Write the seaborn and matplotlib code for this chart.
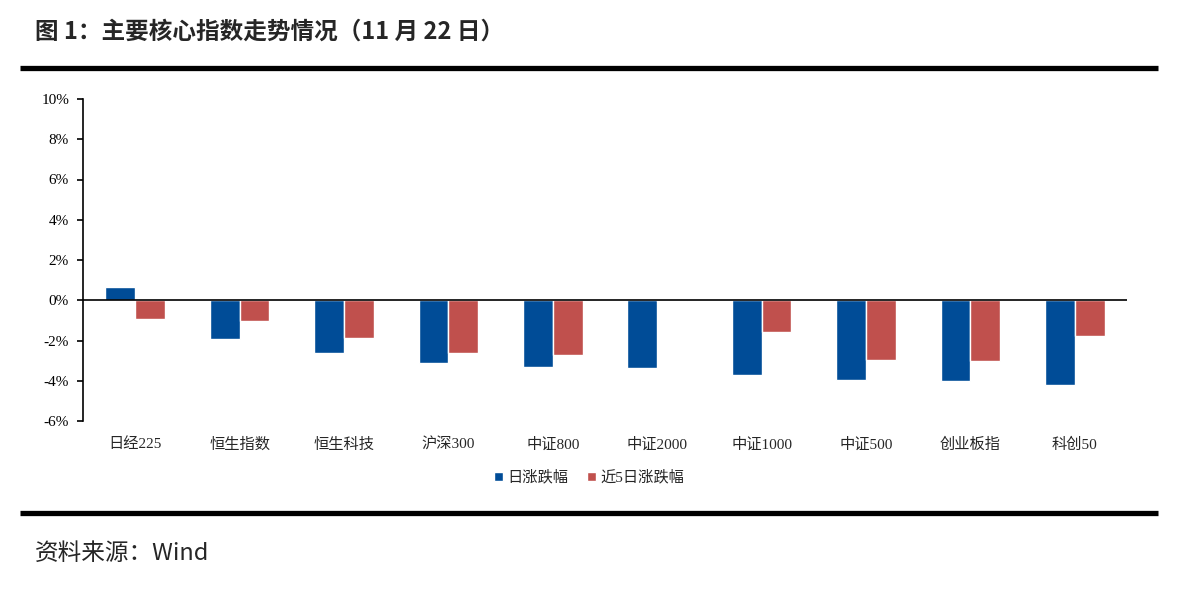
import numpy as np
import pandas as pd
import matplotlib
matplotlib.use('Agg')
import matplotlib.pyplot as plt
import seaborn as sns

categories = ['日经225', '恒生指数', '恒生科技', '沪深300', '中证800',
              '中证2000', '中证1000', '中证500', '创业板指', '科创50']
daily_chg = [0.64, -1.93, -2.60, -3.12, -3.32, -3.39, -3.72, -3.96, -4.00, -4.19]
five_day_chg = [-0.94, -1.03, -1.90, -2.61, -2.70, -0.03, -1.57, -2.96, -3.03, -1.78]
series_names = ['日涨跌幅', '近5日涨跌幅']
yticks = [-6, -4, -2, 0, 2, 4, 6, 8, 10]

sns.set_style('white')
plt.rcParams['font.family'] = ['Noto Sans CJK SC', 'DejaVu Sans']
serif_cjk = ['Liberation Serif', 'Noto Sans CJK SC']

df = pd.DataFrame({
    '指数': categories * 2,
    '涨跌幅': daily_chg + five_day_chg,
    '系列': [series_names[0]] * len(categories) + [series_names[1]] * len(categories),
})

fig = plt.figure(figsize=(11.78, 5.92), dpi=100)
ax = fig.add_axes([83 / 1178, 1 - 421 / 592, (1127 - 83) / 1178, (421 - 99) / 592])

sns.barplot(data=df, x='指数', y='涨跌幅', hue='系列', order=categories,
            hue_order=series_names, palette=['#004C97', '#C0504D'],
            width=0.57, saturation=1, ax=ax, legend=True)

ax.set_ylim(-6, 10)
ax.set_xlim(-0.5, len(categories) - 0.5)
ax.set_yticks(yticks)
ax.set_yticklabels([f'{t}%' for t in yticks], family=serif_cjk, fontsize=11)
ax.axhline(0, color='black', lw=1.2, zorder=3)
ax.set_xlabel('')
ax.set_ylabel('')

for s in ['top', 'right', 'bottom']:
    ax.spines[s].set_visible(False)
ax.spines['left'].set_color('black')
ax.spines['left'].set_linewidth(1.2)
ax.tick_params(axis='y', direction='out', length=4, width=1.2, left=True, pad=6, colors='black')
ax.tick_params(axis='x', length=0, pad=12)
ax.set_xticklabels(categories, family=serif_cjk, fontsize=11)

leg = ax.legend(loc='upper center', bbox_to_anchor=(0.485, -0.11), ncol=2, frameon=False,
                handlelength=0.6, handleheight=0.6, handletextpad=0.3, columnspacing=1.2,
                prop={'family': serif_cjk, 'size': 11})

fig.text(35 / 1178, 1 - 32 / 592, '图 1：主要核心指数走势情况（11 月 22 日）', fontsize=17,
         fontweight='bold', va='center', ha='left')
fig.add_artist(plt.Line2D([20 / 1178, 1158 / 1178], [1 - 68 / 592] * 2, color='black', lw=3.8,
                          solid_capstyle='butt'))
fig.add_artist(plt.Line2D([20 / 1178, 1158 / 1178], [1 - 513 / 592] * 2, color='black', lw=3.8,
                          solid_capstyle='butt'))
fig.text(35 / 1178, 1 - 553 / 592, '资料来源：Wind', fontsize=17, va='center', ha='left')

fig.savefig('out.png', dpi=100)
